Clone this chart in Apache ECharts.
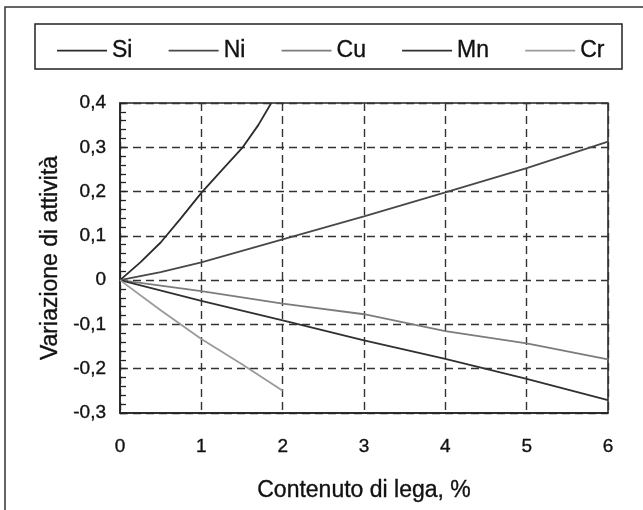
<!DOCTYPE html>
<html>
<head>
<meta charset="utf-8">
<script src="https://cdn.jsdelivr.net/npm/echarts@6/dist/echarts.min.js"></script>
<style>html,body{margin:0;padding:0;background:#fff;}#c{width:643px;height:510px;}</style>
</head>
<body>
<div id="c"></div>
<script>
const seriesNames = ['Si', 'Ni', 'Cu', 'Mn', 'Cr'];
const siData = [[0,0],[0.25,0.04],[0.5,0.085],[0.75,0.14],[1,0.197],[1.25,0.248],[1.5,0.298],[1.7,0.35],[1.86,0.4]];
const niData = [[0,0],[0.5,0.018],[1,0.04],[2,0.092],[3,0.144],[4,0.198],[5,0.253],[6,0.313]];
const cuData = [[0,0],[1,-0.025],[2,-0.053],[3,-0.077],[4,-0.115],[5,-0.143],[6,-0.179]];
const mnData = [[0,0],[1,-0.047],[2,-0.091],[3,-0.136],[4,-0.178],[5,-0.223],[6,-0.271]];
const crData = [[0,0],[0.5,-0.068],[1,-0.133],[1.5,-0.19],[2,-0.25]];
const xTicks = [0,1,2,3,4,5,6];
const yTicks = [-0.3,-0.2,-0.1,0,0.1,0.2,0.3,0.4];

const colors = ['#2b2b2b', '#484848', '#7c7c7c', '#303030', '#9a9a9a'];
const dataSets = [siData, niData, cuData, mnData, crData];
const font = '"Liberation Sans", Arial, sans-serif';
const txt = { fontFamily: font, color: '#111', textBorderColor: '#111', textBorderWidth: 0.35 };

const chart = echarts.init(document.getElementById('c'));
chart.setOption({
  animation: false,
  backgroundColor: '#fff',
  graphic: [
    { type: 'rect', shape: { x: 5, y: 7, width: 700, height: 600 }, style: { fill: 'none', stroke: '#333', lineWidth: 1.5 }, silent: true },
    { type: 'rect', shape: { x: 35, y: 24, width: 587, height: 45 }, style: { fill: 'none', stroke: '#222', lineWidth: 1.5 }, silent: true }
  ],
  legend: {
    left: 52, top: 34,
    data: seriesNames,
    icon: 'rect',
    itemWidth: 50, itemHeight: 1.8,
    itemGap: 36,
    textStyle: Object.assign({ fontSize: 23, padding: [0,0,0,0] }, txt)
  },
  grid: { left: 120, right: 35, top: 103, bottom: 97, show: true, borderColor: '#222', borderWidth: 1.5, backgroundColor: 'transparent' },
  xAxis: {
    type: 'value', min: 0, max: 6, interval: 1,
    name: 'Contenuto di lega, %', nameLocation: 'middle', nameGap: 66,
    nameTextStyle: Object.assign({ fontSize: 23 }, txt),
    axisLine: { show: true, onZero: false, lineStyle: { color: '#222', width: 1.5 } },
    axisTick: { show: false },
    axisLabel: Object.assign({ margin: 24, fontSize: 19, formatter: v => xTicks.includes(v) ? String(v) : '' }, txt),
    splitLine: { show: true, lineStyle: { color: '#333', width: 1.4, type: [8, 5] } }
  },
  yAxis: {
    type: 'value', min: -0.3, max: 0.4, interval: 0.1,
    name: 'Variazione di attività', nameLocation: 'middle', nameGap: 47, nameRotate: 90,
    nameTextStyle: Object.assign({ fontSize: 23 }, txt),
    axisLine: { show: true, onZero: false, lineStyle: { color: '#222', width: 1.5 } },
    axisTick: { show: true, inside: true, length: 6, lineStyle: { color: '#222', width: 1.3 } },
    minorTick: { show: true, splitNumber: 5, length: 6, lineStyle: { color: '#222', width: 1.3 } },
    axisLabel: Object.assign({ margin: 14, fontSize: 19,
      formatter: v => { const r = Math.round(v * 10) / 10; return r === 0 ? '0' : String(r).replace('.', ','); } }, txt),
    splitLine: { show: true, lineStyle: { color: '#333', width: 1.4, type: [8, 5] } }
  },
  series: seriesNames.map((n, i) => ({
    name: n, type: 'line', data: dataSets[i], showSymbol: false, symbol: 'none',
    lineStyle: { color: colors[i], width: 1.8 }, itemStyle: { color: colors[i] }
  }))
});
</script>
</body>
</html>
